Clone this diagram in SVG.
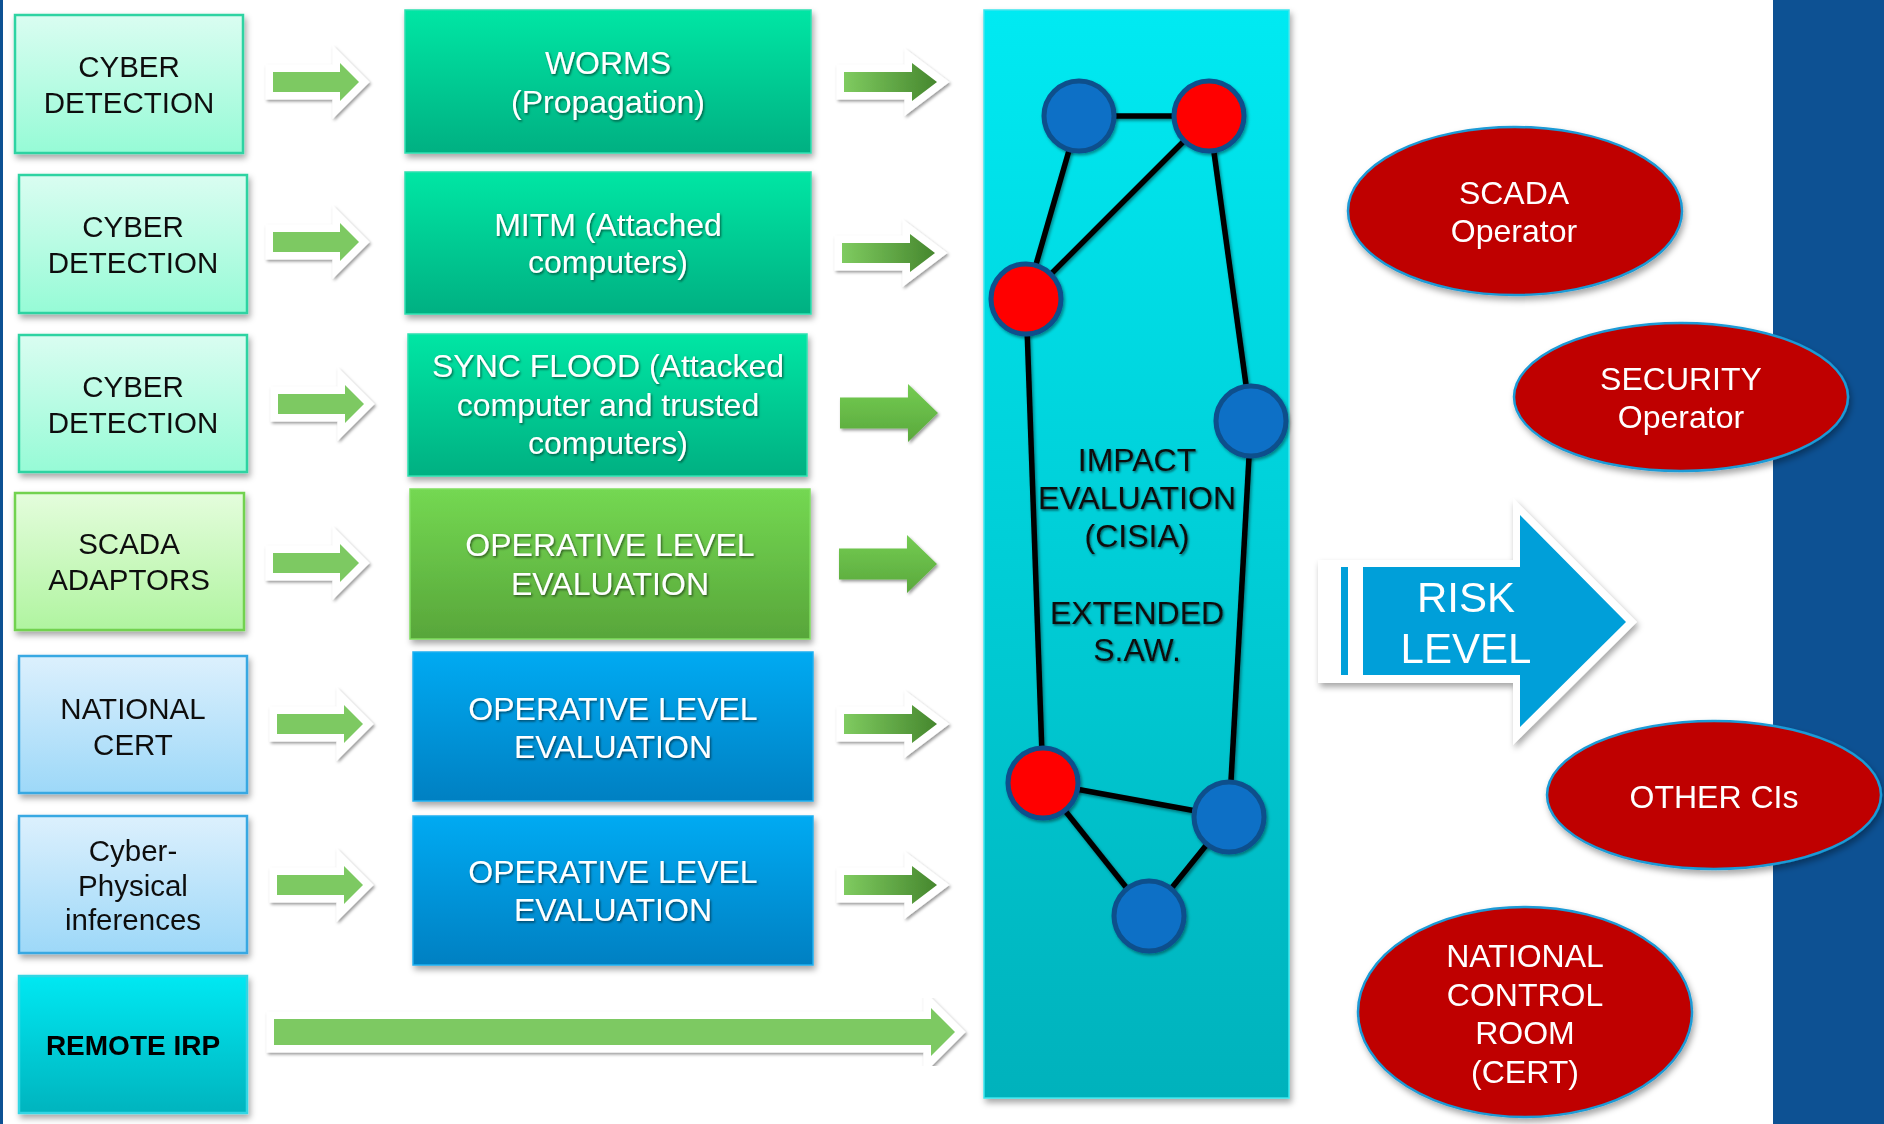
<svg xmlns="http://www.w3.org/2000/svg" xmlns:xlink="http://www.w3.org/1999/xlink" width="1884" height="1124" viewBox="0 0 1884 1124">
  <defs>
    <style>
      text { font-family: "Liberation Sans", Arial, sans-serif; text-anchor: middle; }
      .lt { font-size: 29.5px; fill: #111; }
      .mt { font-size: 32px; fill: #fff; }
      .pt { font-size: 32px; fill: #111; }
      .et { font-size: 32px; fill: #fff; }
      .edge { stroke: #000; stroke-width: 5.5; fill: none; }
      .nb { fill: #0d6fc6; stroke: #0c4f8c; stroke-width: 5; }
      .nr { fill: #ff0000; stroke: #0c4f8c; stroke-width: 5; }
      .ell { fill: #bf0000; stroke: #1a9ad6; stroke-width: 2.5; }
      .wl { stroke: #fff; stroke-width: 15; stroke-linejoin: miter; paint-order: stroke; }
    </style>
    <filter id="sh" x="-10%" y="-10%" width="125%" height="130%">
      <feDropShadow dx="2" dy="4" stdDeviation="3" flood-color="#000" flood-opacity="0.35"/>
    </filter>
    <filter id="tsh" x="-5%" y="-20%" width="110%" height="150%">
      <feDropShadow dx="1.2" dy="1.5" stdDeviation="0.9" flood-color="#000" flood-opacity="0.55"/>
    </filter>
    <filter id="esh" x="-20%" y="-20%" width="140%" height="140%">
      <feDropShadow dx="1.5" dy="2" stdDeviation="1.5" flood-color="#000" flood-opacity="0.4"/>
    </filter>
    <linearGradient id="gCyberL" x1="0" y1="0" x2="0" y2="1"><stop offset="0" stop-color="#dafdf1"/><stop offset="1" stop-color="#96fbd6"/></linearGradient>
    <linearGradient id="gScadaL" x1="0" y1="0" x2="0" y2="1"><stop offset="0" stop-color="#e4fddc"/><stop offset="1" stop-color="#b0f4a0"/></linearGradient>
    <linearGradient id="gBlueL" x1="0" y1="0" x2="0" y2="1"><stop offset="0" stop-color="#dcf0fd"/><stop offset="1" stop-color="#9dd8f8"/></linearGradient>
    <linearGradient id="gCyan" x1="0" y1="0" x2="0" y2="1"><stop offset="0" stop-color="#00e8f2"/><stop offset="1" stop-color="#00b4be"/></linearGradient>
    <linearGradient id="gTeal" x1="0" y1="0" x2="0" y2="1"><stop offset="0" stop-color="#00e6a4"/><stop offset="1" stop-color="#00b082"/></linearGradient>
    <linearGradient id="gGreenM" x1="0" y1="0" x2="0" y2="1"><stop offset="0" stop-color="#74d852"/><stop offset="1" stop-color="#58a63a"/></linearGradient>
    <linearGradient id="gBlueM" x1="0" y1="0" x2="0" y2="1"><stop offset="0" stop-color="#00aaf2"/><stop offset="1" stop-color="#0080c2"/></linearGradient>
    <linearGradient id="gPanel" x1="0" y1="0" x2="0" y2="1"><stop offset="0" stop-color="#00eaf2"/><stop offset="1" stop-color="#00b2bc"/></linearGradient>
    <linearGradient id="gArrH" x1="0" y1="0" x2="1" y2="0"><stop offset="0" stop-color="#7fcb60"/><stop offset="1" stop-color="#46872e"/></linearGradient>
    <linearGradient id="gArrV" x1="0" y1="0" x2="0" y2="1"><stop offset="0" stop-color="#74cc52"/><stop offset="1" stop-color="#5aa83c"/></linearGradient>
    <!-- arrow shapes, drawn around y = 0 -->
    <path id="aSmallL" d="M0 -10 H67 V-19 L86 0 L67 19 V10 H0 Z"/>
    <path id="aSmallR" d="M0 -10 H68 V-19 L93 0 L68 19 V10 H0 Z"/>
    <path id="aBig" d="M0 -15.5 H68 V-29 L98 0 L68 29 V15.5 H0 Z"/>
  </defs>

  <rect x="0" y="0" width="1884" height="1124" fill="#fff"/>
  <!-- side bars -->
  <rect x="0" y="0" width="3" height="1124" fill="#0d5193"/>
  <rect x="1773" y="0" width="111" height="1124" fill="#0d5193"/>

  <!-- input sources -->
  <g id="src-cyber-1" filter="url(#sh)">
    <rect x="15" y="15" width="228" height="138" fill="url(#gCyberL)" stroke="#2fd3a2" stroke-width="2.5"/>
    <text class="lt" x="129" y="77">CYBER</text>
    <text class="lt" x="129" y="113">DETECTION</text>
  </g>
  <g id="src-cyber-2" filter="url(#sh)">
    <rect x="19" y="175" width="228" height="138" fill="url(#gCyberL)" stroke="#2fd3a2" stroke-width="2.5"/>
    <text class="lt" x="133" y="237">CYBER</text>
    <text class="lt" x="133" y="273">DETECTION</text>
  </g>
  <g id="src-cyber-3" filter="url(#sh)">
    <rect x="19" y="335" width="228" height="137" fill="url(#gCyberL)" stroke="#2fd3a2" stroke-width="2.5"/>
    <text class="lt" x="133" y="397">CYBER</text>
    <text class="lt" x="133" y="433">DETECTION</text>
  </g>
  <g id="src-scada" filter="url(#sh)">
    <rect x="15" y="493" width="229" height="137" fill="url(#gScadaL)" stroke="#72d24f" stroke-width="2.5"/>
    <text class="lt" x="129" y="554">SCADA</text>
    <text class="lt" x="129" y="590">ADAPTORS</text>
  </g>
  <g id="src-cert" filter="url(#sh)">
    <rect x="19" y="656" width="228" height="137" fill="url(#gBlueL)" stroke="#39a8e2" stroke-width="2.5"/>
    <text class="lt" x="133" y="719">NATIONAL</text>
    <text class="lt" x="133" y="755">CERT</text>
  </g>
  <g id="src-cps" filter="url(#sh)">
    <rect x="19" y="816" width="228" height="137" fill="url(#gBlueL)" stroke="#39a8e2" stroke-width="2.5"/>
    <text class="lt" x="133" y="861">Cyber-</text>
    <text class="lt" x="133" y="896">Physical</text>
    <text class="lt" x="133" y="930">inferences</text>
  </g>
  <g id="src-irp" filter="url(#sh)">
    <rect x="19" y="976" width="228" height="137" fill="url(#gCyan)" stroke="#33d6e4" stroke-width="2.5"/>
    <text x="133" y="1055" style="font-size:28px;font-weight:bold;fill:#000">REMOTE IRP</text>
  </g>

  <!-- evaluation stages -->
  <g id="ev-worms" filter="url(#sh)">
    <rect x="405" y="10" width="406" height="143" fill="url(#gTeal)" stroke="#2fe0b0" stroke-width="1.5"/>
    <g filter="url(#tsh)">
      <text class="mt" x="608" y="74">WORMS</text>
      <text class="mt" x="608" y="113">(Propagation)</text>
    </g>
  </g>
  <g id="ev-mitm" filter="url(#sh)">
    <rect x="405" y="172" width="406" height="142" fill="url(#gTeal)" stroke="#2fe0b0" stroke-width="1.5"/>
    <g filter="url(#tsh)">
      <text class="mt" x="608" y="236">MITM (Attached</text>
      <text class="mt" x="608" y="273">computers)</text>
    </g>
  </g>
  <g id="ev-sync" filter="url(#sh)">
    <rect x="408" y="334" width="399" height="142" fill="url(#gTeal)" stroke="#2fe0b0" stroke-width="1.5"/>
    <g filter="url(#tsh)">
      <text class="mt" x="608" y="377">SYNC FLOOD (Attacked</text>
      <text class="mt" x="608" y="416">computer and trusted</text>
      <text class="mt" x="608" y="454">computers)</text>
    </g>
  </g>
  <g id="ev-op-green" filter="url(#sh)">
    <rect x="410" y="489" width="400" height="150" fill="url(#gGreenM)" stroke="#80de60" stroke-width="1.5"/>
    <g filter="url(#tsh)">
      <text class="mt" x="610" y="556">OPERATIVE LEVEL</text>
      <text class="mt" x="610" y="595">EVALUATION</text>
    </g>
  </g>
  <g id="ev-op-blue-1" filter="url(#sh)">
    <rect x="413" y="652" width="400" height="149" fill="url(#gBlueM)" stroke="#20b0f0" stroke-width="1.5"/>
    <g filter="url(#tsh)">
      <text class="mt" x="613" y="720">OPERATIVE LEVEL</text>
      <text class="mt" x="613" y="758">EVALUATION</text>
    </g>
  </g>
  <g id="ev-op-blue-2" filter="url(#sh)">
    <rect x="413" y="816" width="400" height="149" fill="url(#gBlueM)" stroke="#20b0f0" stroke-width="1.5"/>
    <g filter="url(#tsh)">
      <text class="mt" x="613" y="883">OPERATIVE LEVEL</text>
      <text class="mt" x="613" y="921">EVALUATION</text>
    </g>
  </g>

  <!-- impact evaluation panel -->
  <g id="impact-panel">
    <rect x="984" y="10" width="305" height="1088" fill="url(#gPanel)" stroke="#3ce6ee" stroke-width="1.5" filter="url(#sh)"/>
    <g filter="url(#tsh)">
      <text class="pt" x="1137" y="471">IMPACT</text>
      <text class="pt" x="1137" y="509">EVALUATION</text>
      <text class="pt" x="1137" y="547">(CISIA)</text>
      <text class="pt" x="1137" y="624">EXTENDED</text>
      <text class="pt" x="1137" y="661">S.AW.</text>
    </g>
  </g>

  <!-- connectors -->
  <g id="connectors">
    <g id="arrows-in" filter="url(#esh)">
      <use xlink:href="#aSmallL" href="#aSmallL" x="273" y="82" class="wl" fill="#7dc962"/>
      <use xlink:href="#aSmallL" href="#aSmallL" x="273" y="242" class="wl" fill="#7dc962"/>
      <use xlink:href="#aSmallL" href="#aSmallL" x="278" y="404" class="wl" fill="#7dc962"/>
      <use xlink:href="#aSmallL" href="#aSmallL" x="273" y="563" class="wl" fill="#7dc962"/>
      <use xlink:href="#aSmallL" href="#aSmallL" x="277" y="724" class="wl" fill="#7dc962"/>
      <use xlink:href="#aSmallL" href="#aSmallL" x="277" y="885" class="wl" fill="#7dc962"/>
    </g>
    <g id="arrows-out" filter="url(#esh)">
      <use xlink:href="#aSmallR" href="#aSmallR" x="844" y="82" class="wl" fill="url(#gArrH)"/>
      <use xlink:href="#aSmallR" href="#aSmallR" x="842" y="253" class="wl" fill="url(#gArrH)"/>
      <use xlink:href="#aBig" href="#aBig" x="840" y="413" fill="url(#gArrV)"/>
      <use xlink:href="#aBig" href="#aBig" x="839" y="564" fill="url(#gArrV)"/>
      <use xlink:href="#aSmallR" href="#aSmallR" x="844" y="724" class="wl" fill="url(#gArrH)"/>
      <use xlink:href="#aSmallR" href="#aSmallR" x="844" y="885" class="wl" fill="url(#gArrH)"/>
    </g>
    <path id="arrow-irp" filter="url(#esh)" class="wl" fill="#7dc962" d="M274 1019 H931 V1008 L955 1032 L931 1056 V1045 H274 Z"/>
    <!-- network edges -->
    <g id="net-edges" filter="url(#esh)">
      <line class="edge" x1="1079" y1="116" x2="1209" y2="116"/>
      <line class="edge" x1="1079" y1="116" x2="1026" y2="299"/>
      <line class="edge" x1="1209" y1="116" x2="1026" y2="299"/>
      <line class="edge" x1="1209" y1="116" x2="1251" y2="421"/>
      <line class="edge" x1="1026" y1="299" x2="1043" y2="783"/>
      <line class="edge" x1="1251" y1="421" x2="1229" y2="817"/>
      <line class="edge" x1="1043" y1="783" x2="1229" y2="817"/>
      <line class="edge" x1="1043" y1="783" x2="1149" y2="916"/>
      <line class="edge" x1="1229" y1="817" x2="1149" y2="916"/>
    </g>
  </g>

  <!-- network nodes -->
  <g id="net-nodes" filter="url(#esh)">
    <circle id="n1" class="nb" cx="1079" cy="116" r="35"/>
    <circle id="n2" class="nr" cx="1209" cy="116" r="35"/>
    <circle id="n3" class="nr" cx="1026" cy="299" r="35"/>
    <circle id="n4" class="nb" cx="1251" cy="421" r="35"/>
    <circle id="n5" class="nr" cx="1043" cy="783" r="35"/>
    <circle id="n6" class="nb" cx="1229" cy="817" r="35"/>
    <circle id="n7" class="nb" cx="1149" cy="916" r="35"/>
  </g>

  <!-- risk level output -->
  <g id="risk-level" filter="url(#sh)">
    <polygon points="1318,560 1513,560 1513,498 1637,622 1513,745 1513,683 1318,683" fill="#fff"/>
    <polygon points="1363,567 1520,567 1520,515 1626,622 1520,727 1520,675 1363,675" fill="#039fd9"/>
    <rect x="1341" y="567" width="7" height="108" fill="#039fd9"/>
    <text x="1466" y="612" style="font-size:42px;fill:#fff">RISK</text>
    <text x="1466" y="663" style="font-size:42px;fill:#fff">LEVEL</text>
  </g>

  <!-- recipients -->
  <g id="rcp-scada" filter="url(#sh)">
    <ellipse class="ell" cx="1515" cy="211" rx="167" ry="84"/>
    <text class="et" x="1514" y="204">SCADA</text>
    <text class="et" x="1514" y="242">Operator</text>
  </g>
  <g id="rcp-security" filter="url(#sh)">
    <ellipse class="ell" cx="1681" cy="397" rx="167" ry="74"/>
    <text class="et" x="1681" y="390">SECURITY</text>
    <text class="et" x="1681" y="428">Operator</text>
  </g>
  <g id="rcp-other" filter="url(#sh)">
    <ellipse class="ell" cx="1714" cy="795" rx="167" ry="74"/>
    <text class="et" x="1714" y="808">OTHER CIs</text>
  </g>
  <g id="rcp-national" filter="url(#sh)">
    <ellipse class="ell" cx="1525" cy="1012" rx="167" ry="105"/>
    <text class="et" x="1525" y="967">NATIONAL</text>
    <text class="et" x="1525" y="1006">CONTROL</text>
    <text class="et" x="1525" y="1044">ROOM</text>
    <text class="et" x="1525" y="1083">(CERT)</text>
  </g>
</svg>
